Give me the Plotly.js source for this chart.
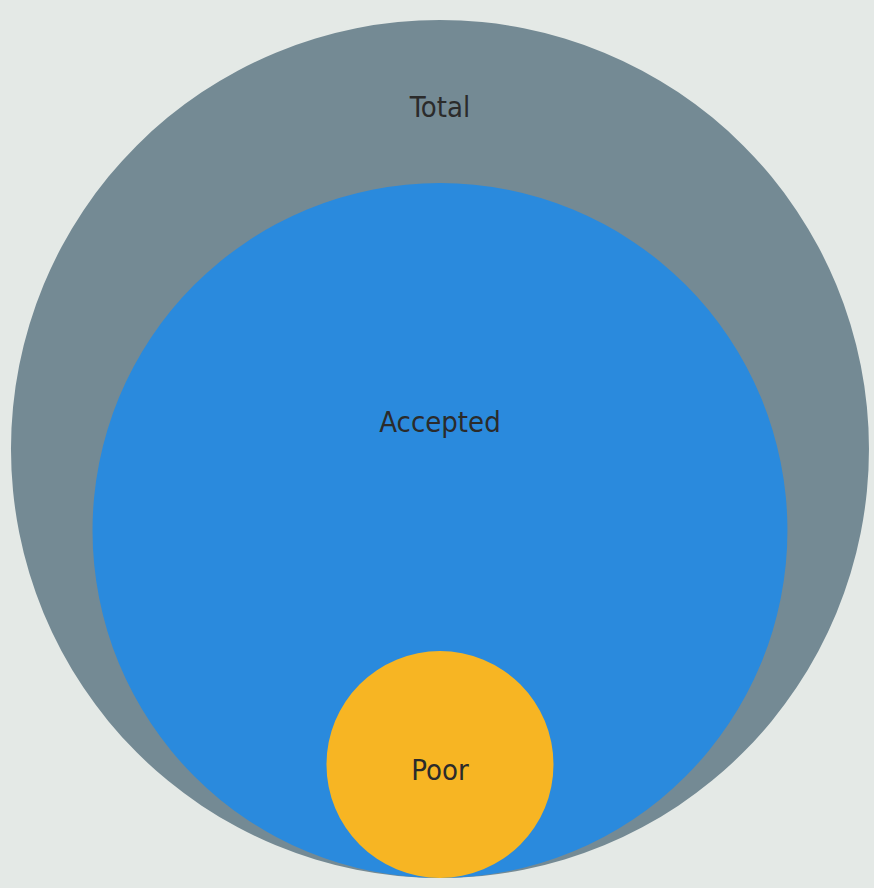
<!DOCTYPE html>
<html>
<head>
<meta charset="utf-8">
<script src="https://cdn.plot.ly/plotly-3.0.1.min.js"></script>
<style>html,body{margin:0;padding:0;background:#e4e9e6;}</style>
</head>
<body>
<div id="chart" style="width:874px;height:888px;"></div>
<script>
// Data (nested: each is contained in the previous one)
const labels = ['Total', 'Accepted', 'Poor'];
const values = [100, 65.6, 7];
const colors = ['#748a94', '#2a8add', '#f7b523'];

// radius proportional to sqrt(value) (area encodes value); all tangent at bottom (y=0)
const radii = values.map(v => Math.sqrt(v));
const shapes = radii.map((r, i) => ({
  type: 'circle', xref: 'x', yref: 'y',
  x0: -r, x1: r, y0: 0, y1: 2 * r,
  fillcolor: colors[i], line: {width: 0}, layer: 'below'
}));
// label placed midway between top of the circle and top of the child (or centre if leaf)
const labelY = radii.map((r, i) => {
  const top = 2 * r;
  const bottom = i + 1 < radii.length ? 2 * radii[i + 1] : 0;
  return (top + bottom) / 2 - 0.19;
});

const trace = {
  type: 'scatter', mode: 'text',
  x: labels.map(() => 0), y: labelY, text: labels,
  textposition: 'middle center',
  textfont: {family: 'DejaVu Sans Condensed, sans-serif', size: 29, color: '#2b2b2b'},
  hoverinfo: 'text', showlegend: false
};

const layout = {
  width: 874, height: 888,
  margin: {l: 0, r: 0, t: 0, b: 0},
  paper_bgcolor: '#e4e9e6', plot_bgcolor: '#e4e9e6',
  xaxis: {range: [-10.256, 10.117], visible: false, fixedrange: true},
  yaxis: {range: [-0.233, 20.466], visible: false, fixedrange: true},
  shapes: shapes,
  showlegend: false
};

Plotly.newPlot('chart', [trace], layout, {displayModeBar: false, staticPlot: true});
</script>
</body>
</html>
